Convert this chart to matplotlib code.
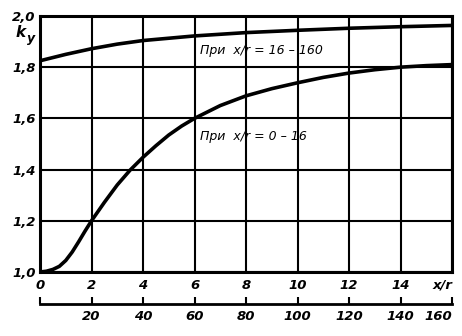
import matplotlib.pyplot as plt

# x/r scale and k_y for the two ranges of x/r
x_low = [0, 0.25, 0.5, 0.75, 1, 1.25, 1.5, 1.75, 2, 2.5, 3, 3.5, 4, 4.5, 5, 5.5, 6, 7,
         8, 9, 10, 11, 12, 13, 14, 15, 16]
k_low = [1.0, 1.003, 1.01, 1.022, 1.045, 1.078, 1.118, 1.16, 1.2, 1.272, 1.34, 1.398,
         1.448, 1.493, 1.535, 1.57, 1.6, 1.65, 1.688, 1.716, 1.739, 1.76, 1.777, 1.79,
         1.8, 1.806, 1.81]

x_up = [0, 1, 2, 3, 4, 6, 8, 10, 12, 14, 16]
k_up = [1.825, 1.85, 1.872, 1.89, 1.904, 1.922, 1.935, 1.944, 1.952, 1.958, 1.963]

x_ticks = [0, 2, 4, 6, 8, 10, 12, 14, 16]
x_labels = ['0', '2', '4', '6', '8', '10', '12', '14', 'x/r']
y_ticks = [1.0, 1.2, 1.4, 1.6, 1.8, 2.0]
y_labels = ['1,0', '1,2', '1,4', '1,6', '1,8', '2,0']
x2_ticks = [0, 20, 40, 60, 80, 100, 120, 140, 160]
x2_labels = ['', '20', '40', '60', '80', '100', '120', '140', '160']

plt.rcParams['font.family'] = ['Liberation Sans Narrow', 'DejaVu Sans']

fig = plt.figure(figsize=(4.62, 3.36), dpi=100)
ax = fig.add_axes([0.0866, 0.1905, 0.8918, 0.762])

ax.plot(x_up, k_up, color='black', lw=2.6, solid_capstyle='butt', solid_joinstyle='round')
ax.plot(x_low, k_low, color='black', lw=2.6, solid_capstyle='butt', solid_joinstyle='round')

ax.set_xlim(0, 16)
ax.set_ylim(1.0, 2.0)
ax.set_xticks(x_ticks)
ax.set_xticklabels(x_labels, fontsize=9.5, fontweight='bold', fontstyle='italic')
ax.set_yticks(y_ticks)
ax.set_yticklabels(y_labels, fontsize=9.5, fontweight='bold', fontstyle='italic')
ax.tick_params(length=0)
ax.tick_params(axis='x', pad=5)
ax.tick_params(axis='y', pad=3)
ax.get_xticklabels()[-1].set_ha('right')
ax.grid(True, color='black', lw=1.5)
for s in ax.spines.values():
    s.set_linewidth(2.2)

ax.text(6.2, 1.867, 'При  x/r = 16 – 160', fontsize=9, fontstyle='italic', va='center')
ax.text(6.2, 1.531, 'При  x/r = 0 – 16', fontsize=9, fontstyle='italic', va='center')

# second scale under the axis: x/r times 10
sec = ax.secondary_xaxis(-0.125, functions=(lambda v: v * 10, lambda v: v / 10))
sec.set_xticks(x2_ticks)
sec.set_xticklabels(x2_labels, fontsize=9.5, fontweight='bold', fontstyle='italic')
sec.tick_params(direction='in', length=5, width=1.5, pad=4)
sec.spines['bottom'].set_linewidth(2)
sec.get_xticklabels()[-1].set_ha('right')

fig.text(0.033, 0.89, 'k', fontsize=11, fontweight='bold', fontstyle='italic')
fig.text(0.058, 0.875, 'y', fontsize=9, fontweight='bold', fontstyle='italic')

fig.savefig('out.png', dpi=100)
